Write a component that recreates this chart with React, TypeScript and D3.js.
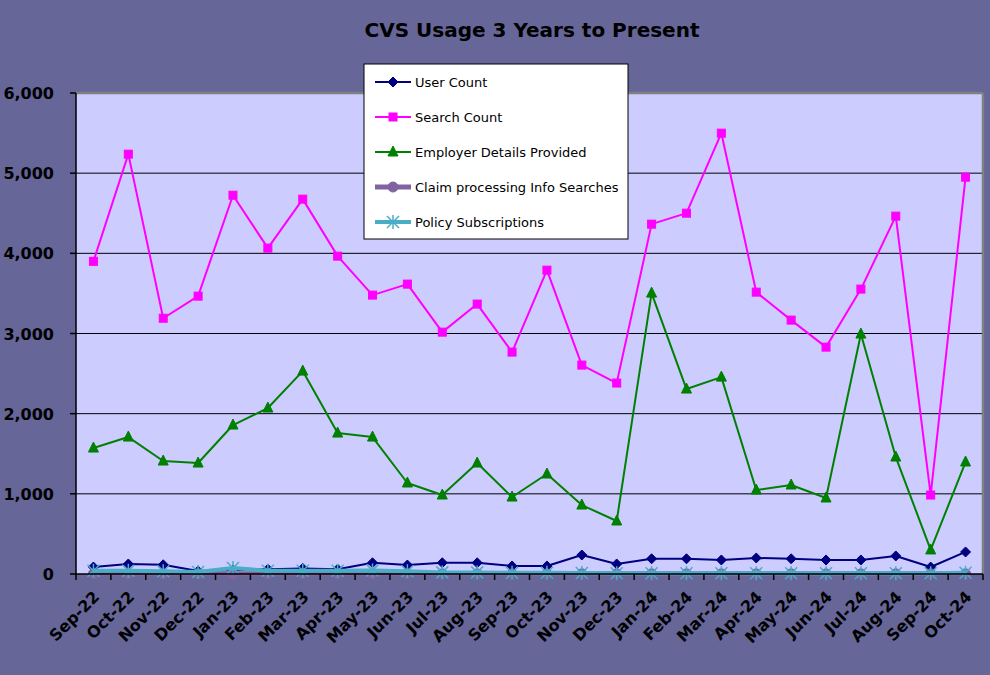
import React from "react";
import * as d3 from "d3";

const months = ["Sep-22","Oct-22","Nov-22","Dec-22","Jan-23","Feb-23","Mar-23","Apr-23","May-23","Jun-23","Jul-23","Aug-23","Sep-23","Oct-23","Nov-23","Dec-23","Jan-24","Feb-24","Mar-24","Apr-24","May-24","Jun-24","Jul-24","Aug-24","Sep-24","Oct-24"];
const userCount = [87,125,115,37,50,60,70,60,140,112,140,140,100,100,237,125,190,190,175,200,190,175,175,225,87,275];
const searchCount = [3900,5237,3190,3466,4725,4065,4676,3965,3479,3616,3017,3367,2768,3790,2606,2382,4364,4501,5499,3516,3167,2830,3554,4464,985,4950];
const employerDetails = [1571,1708,1409,1384,1858,2070,2531,1758,1708,1135,985,1384,960,1247,860,661,3504,2307,2456,1047,1110,948,2993,1459,300,1397];
const claimSearches = [2,2,2,2,2,2,2,2,2,2,2,2,2,2,2,2,2,2,2,2,2,2,2,2,2,2];
const policySubs = [40,40,35,25,75,40,40,40,45,35,20,20,15,15,12,10,10,10,10,10,10,10,10,10,10,15];
const yTicks = [0,1000,2000,3000,4000,5000,6000];

const seriesNames = ["User Count","Search Count","Employer Details Provided","Claim processing Info Searches","Policy Subscriptions"];
const seriesColors = ["#000080","#FF00FF","#008000","#8064A2","#4BACC6"];
const seriesWidths = [2,2,2,5,4];
const seriesMarkers = ["diamond","square","triangle","circle","star"];

const L = 76, R = 983, T = 93, B = 574;
const FONT = "'DejaVu Sans', Verdana, sans-serif";

function Marker({ type, x, y, color }: { type: string; x: number; y: number; color: string }) {
  if (type === "diamond") {
    const s = 5;
    return <path d={`M${x},${y - s}L${x + s},${y}L${x},${y + s}L${x - s},${y}Z`} fill={color} stroke={color} strokeWidth={1} />;
  }
  if (type === "square") {
    return <rect x={x - 4} y={y - 4} width={8} height={8} fill={color} stroke={color} strokeWidth={1} />;
  }
  if (type === "triangle") {
    return <path d={`M${x},${y - 6}L${x + 5},${y + 4}L${x - 5},${y + 4}Z`} fill={color} stroke={color} strokeWidth={1} />;
  }
  if (type === "circle") {
    return <circle cx={x} cy={y} r={5} fill={color} stroke={color} strokeWidth={1} />;
  }
  const s = 6;
  return (
    <g stroke={color} strokeWidth={1.5}>
      <line x1={x - s} y1={y - s} x2={x + s} y2={y + s} />
      <line x1={x - s} y1={y + s} x2={x + s} y2={y - s} />
      <line x1={x} y1={y - s - 1} x2={x} y2={y + s + 1} />
    </g>
  );
}

export default function App() {
  const x = d3.scaleBand<string>().domain(months).range([L, R]);
  const y = d3.scaleLinear().domain([0, 6000]).range([B, T]);
  const cx = (m: string) => (x(m) as number) + x.bandwidth() / 2;
  const allSeries = [userCount, searchCount, employerDetails, claimSearches, policySubs];
  const line = d3.line<number>().x((_, i) => cx(months[i])).y((v) => y(v));

  const lx1 = 375, lx2 = 411, ly0 = 82, lstep = 35;

  return (
    <svg width={990} height={675} style={{ position: "absolute", left: 0, top: 0 }} fontFamily={FONT}>
      <rect x={0} y={0} width={990} height={675} fill="#666699" />
      <text x={532} y={37} textAnchor="middle" fontSize={20} fontWeight="bold" fill="#000">CVS Usage 3 Years to Present</text>
      <rect x={L} y={T} width={R - L} height={B - T} fill="#CCCCFF" />
      {yTicks.slice(1).map((t) => (
        <line key={t} x1={L} x2={R} y1={y(t)} y2={y(t)} stroke="#000" strokeWidth={1} />
      ))}
      <line x1={L} x2={R} y1={T} y2={T} stroke="#808080" strokeWidth={2.5} />
      <line x1={R} x2={R} y1={T} y2={B} stroke="#808080" strokeWidth={2.5} />
      {allSeries.map((s, si) => (
        <g key={si}>
          <path d={line(s) as string} fill="none" stroke={seriesColors[si]} strokeWidth={seriesWidths[si]} strokeLinejoin="round" />
          {s.map((v, i) => (
            <Marker key={i} type={seriesMarkers[si]} x={cx(months[i])} y={y(v)} color={seriesColors[si]} />
          ))}
        </g>
      ))}
      <line x1={L} x2={L} y1={T} y2={B} stroke="#000" strokeWidth={1.5} />
      <line x1={L} x2={R} y1={B} y2={B} stroke="#000" strokeWidth={1.5} />
      {yTicks.map((t) => (
        <g key={t}>
          <line x1={L - 6} x2={L} y1={y(t)} y2={y(t)} stroke="#000" strokeWidth={1.5} />
          <text x={54} y={y(t) + 6} textAnchor="end" fontSize={16} fontWeight="bold" fill="#000">{d3.format(",")(t)}</text>
        </g>
      ))}
      {months.concat(["end"]).map((m, i) => {
        const xx = L + i * x.bandwidth();
        return <line key={i} x1={xx} x2={xx} y1={B} y2={B + 6} stroke="#000" strokeWidth={1.5} />;
      })}
      {months.map((m) => (
        <text key={m} transform={`translate(${cx(m) + 7},${598}) rotate(-45)`} textAnchor="end" fontSize={16} fontWeight="bold" fill="#000">{m}</text>
      ))}
      <rect x={364} y={64} width={264} height={175} fill="#FFFFFF" stroke="#000" strokeWidth={1} />
      {seriesNames.map((n, i) => {
        const ly = ly0 + i * lstep;
        return (
          <g key={n}>
            <line x1={lx1} x2={lx2} y1={ly} y2={ly} stroke={seriesColors[i]} strokeWidth={seriesWidths[i]} />
            <Marker type={seriesMarkers[i]} x={(lx1 + lx2) / 2} y={ly} color={seriesColors[i]} />
            <text x={415} y={ly + 5} fontSize={13} fill="#000">{n}</text>
          </g>
        );
      })}
    </svg>
  );
}
